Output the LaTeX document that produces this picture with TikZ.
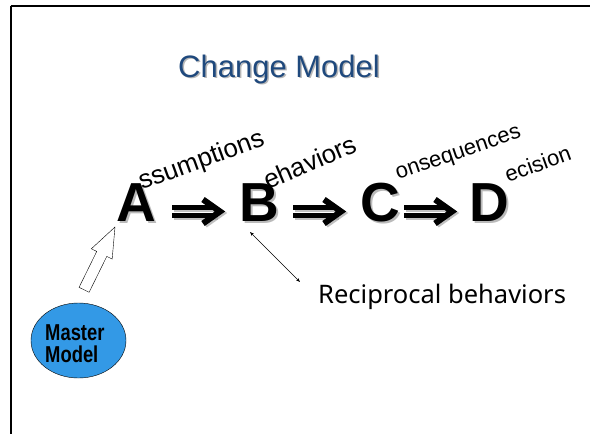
\documentclass[tikz,border=0pt]{standalone}
\usepackage{fontspec}
\setmainfont{Liberation Sans}
\newfontfamily\notefont{Noto Sans}
\usetikzlibrary{arrows.meta,shapes.geometric,calc}
\definecolor{titleblue}{RGB}{31,73,125}
\definecolor{modelblue}{RGB}{51,153,230}
\begin{document}
\begin{tikzpicture}[x=1pt,y=1pt,
  bigletter/.style={font=\fontsize{55}{55}\selectfont\bfseries,inner sep=0pt,anchor=base},
  supertext/.style={font=\fontsize{26}{26}\selectfont,inner sep=0pt,anchor=base west},
  smallsuper/.style={supertext,font=\fontsize{22}{22}\selectfont},
  shade/.style={text=black!45,opacity=0.6},
  frame/.style={line width=2pt},
  pics/chainarrow/.style={code={
    \draw[line width=5pt,line cap=butt] (0,4) -- (44,4) (0,-4) -- (44,-4);
    \draw[line width=6pt,line join=miter,line cap=butt] (31,12) -- (48,0) -- (31,-12);
  }}]
\useasboundingbox (0,0) rectangle (590,-434);
\fill[white] (0,0) rectangle (590,-434);
% slide frame: top and left edges
\draw[frame] (10.5,-6) -- (590,-6);
\draw[frame] (10.5,-6) -- (10.5,-434);

% title
\node[font=\fontsize{31}{31}\selectfont,text=black!40,opacity=0.7,inner sep=0pt,anchor=base] at (280.5,-78.5) {Change Model};
\node[font=\fontsize{31}{31}\selectfont,text=titleblue,inner sep=0pt,anchor=base] (title) at (279,-77) {Change Model};

% soft shadows of the chain
\node[bigletter,shade] at (138,-223) {A};
\node[bigletter,shade] at (261,-223) {B};
\node[bigletter,shade] at (382,-223) {C};
\node[bigletter,shade] at (491,-223) {D};

% the chain A => B => C => D
\node[bigletter] (A) at (136,-221) {A};
\node[bigletter] (B) at (259,-221) {B};
\node[bigletter] (C) at (380,-221) {C};
\node[bigletter] (D) at (489,-221) {D};
\pic[black!40,opacity=0.6] at (174,-213) {chainarrow};
\pic[black!40,opacity=0.6] at (295,-213) {chainarrow};
\pic[black!40,opacity=0.6] at (406,-213) {chainarrow};
\pic (ab) at (172,-211.5) {chainarrow};
\pic (bc) at (293,-211.5) {chainarrow};
\pic (cd) at (404,-211.5) {chainarrow};

% rotated word endings
\node[supertext,rotate=20] (sa) at (142,-190) {ssumptions};
\node[supertext,rotate=23] (sb) at (268,-190) {ehaviors};
\node[smallsuper,rotate=19] (sc) at (398,-180) {onsequences};
\node[smallsuper,rotate=20] (sd) at (508,-183) {ecision};

% master model
\node[ellipse,draw=black,fill=modelblue,minimum width=95,minimum height=75,inner sep=0pt] (mm) at (78.5,-340.5) {};
\node[font=\fontsize{23}{22}\selectfont\bfseries,inner sep=0pt,anchor=base west] (mm1) at (45,-340) {\scalebox{0.8}[1]{Master}};
\node[font=\fontsize{23}{22}\selectfont\bfseries,inner sep=0pt,anchor=base west] (mm2) at (45,-362) {\scalebox{0.8}[1]{Model}};

% hollow block arrow from the master model up to A
\coordinate (tip) at ($(A.base)+(-21,-6)$);
\begin{scope}[shift={(tip)},rotate=63.8]
  \draw[fill=white,line join=miter] (-70,-5.6) -- (-30,-5.6) -- (-30,-11.6) -- (0,0)
    -- (-30,11.6) -- (-30,5.6) -- (-70,5.6) -- cycle;
\end{scope}

% reciprocal behaviors
\node[font=\fontsize{25.5}{25.5}\selectfont\notefont,inner sep=0pt,anchor=base west] (rb) at (318,-303) {Reciprocal behaviors};
\coordinate (rbend) at (300,-282);
\coordinate (bfoot) at (250,-232);
\draw[{Stealth[length=4pt,width=3pt]}-{Stealth[length=4pt,width=3pt]},line width=0.6pt] (bfoot) -- (rbend);
\end{tikzpicture}
\end{document}
